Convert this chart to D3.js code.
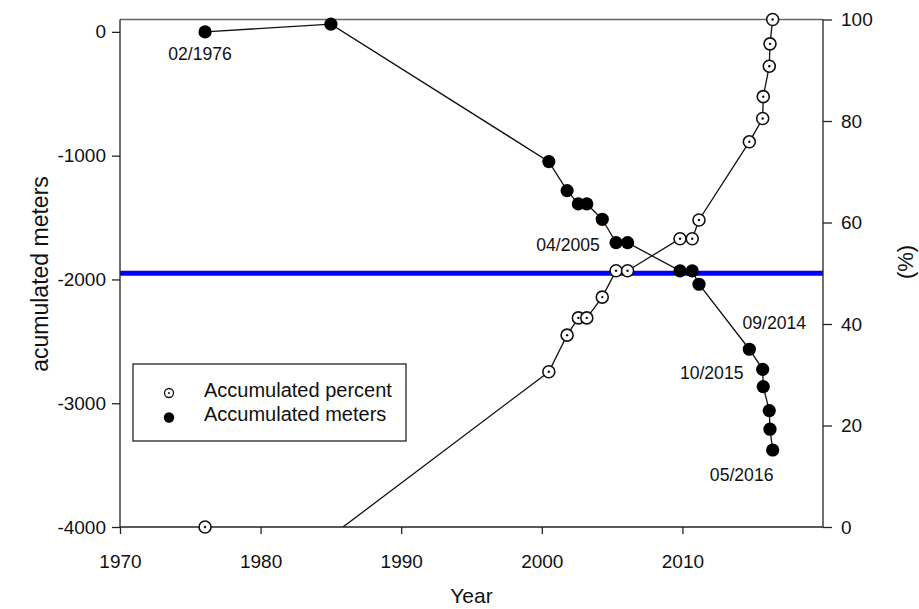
<!DOCTYPE html>
<html>
<head>
<meta charset="utf-8">
<script src="https://cdn.jsdelivr.net/npm/d3@7"></script>
<style>
  html, body { margin: 0; padding: 0; background: #fff; }
  svg { display: block; font-family: "Liberation Sans", Arial, sans-serif; }
</style>
</head>
<body>
<svg id="chart" width="919" height="609"></svg>
<script>
// Survey dates (decimal years)
const years = [1976.05, 1985.0, 2000.5, 2001.8, 2002.6, 2003.2, 2004.3, 2005.28, 2006.1,
               2009.83, 2010.7, 2011.18, 2014.76, 2015.71, 2015.75, 2016.18, 2016.23, 2016.42];
// Accumulated meters at each survey
const meters = [0, 62, -1048, -1282, -1390, -1390, -1514, -1703, -1703,
                -1931, -1931, -2039, -2564, -2726, -2866, -3060, -3210, -3378];
// Accumulated percent at each survey
const percent = [0, -1.8, 30.6, 37.8, 41.2, 41.2, 45.3, 50.5, 50.5,
                 56.8, 56.8, 60.5, 75.9, 80.5, 84.8, 90.8, 95.2, 100];

const xTicks = [1970, 1980, 1990, 2000, 2010];
const yLeftTicks = [0, -1000, -2000, -3000, -4000];
const yRightTicks = [0, 20, 40, 60, 80, 100];
const halfLevel = 50;

// Date annotations, attached to a survey index
const dateLabels = ["02/1976", "04/2005", "09/2014", "10/2015", "05/2016"];
const dateLabelIndex = [0, 7, 12, 13, 17];
const dateLabelOffset = [[-5, 28], [-48, 8], [25, -20], [-51, 10], [-31, 31]];

const legendItems = ["Accumulated percent", "Accumulated meters"];

const svg = d3.select("#chart");
const L = 120, R = 823, T = 19.5, B = 527;

const x = d3.scaleLinear().domain([1970, 2020]).range([L, R]);
const yM = d3.scaleLinear().domain([-4000, 100]).range([B, T]);
const yP = d3.scaleLinear().domain([0, 100]).range([B, T]);

svg.append("defs").append("clipPath").attr("id", "plotClip")
  .append("rect").attr("x", L).attr("y", 0).attr("width", R - L).attr("height", B);

const axisColor = "#222";
const plain = d => String(d);   // keep ASCII hyphen for negatives

// 50% reference line
svg.append("line")
  .attr("x1", L).attr("x2", R)
  .attr("y1", yP(halfLevel)).attr("y2", yP(halfLevel))
  .attr("stroke", "#0000ff").attr("stroke-width", 5);

// Top frame
svg.append("line").attr("x1", L).attr("x2", R).attr("y1", T).attr("y2", T)
  .attr("stroke", "#666").attr("stroke-width", 1.3);

// Axes
function styleAxis(g, fs) {
  g.selectAll(".domain").attr("stroke", axisColor).attr("stroke-width", 1.3);
  g.selectAll(".tick line").attr("stroke", axisColor).attr("stroke-width", 1.3);
  g.selectAll(".tick text").attr("fill", "#111").style("font-size", fs + "px")
    .style("font-family", "'Liberation Sans', Arial, sans-serif");
}

const gx = svg.append("g").attr("transform", `translate(0,${B})`)
  .call(d3.axisBottom(x).tickValues(xTicks).tickFormat(plain).tickSize(7).tickPadding(21).tickSizeOuter(0));
styleAxis(gx, 19);
gx.select(".domain").attr("d", `M${L},0H${R}`);

const gl = svg.append("g").attr("transform", `translate(${L},0)`)
  .call(d3.axisLeft(yM).tickValues(yLeftTicks).tickFormat(plain).tickSize(8).tickPadding(6).tickSizeOuter(0));
styleAxis(gl, 19);
gl.select(".domain").attr("d", `M0,${T}V${B}`);

const gr = svg.append("g").attr("transform", `translate(${R},0)`)
  .call(d3.axisRight(yP).tickValues(yRightTicks).tickFormat(plain).tickSize(9).tickPadding(9).tickSizeOuter(0));
styleAxis(gr, 19);
gr.select(".domain").attr("d", `M0,${T}V${B}`);

// Axis titles
svg.append("text").attr("x", (L + R) / 2).attr("y", 603).attr("text-anchor", "middle")
  .style("font-size", "21px").attr("fill", "#111").text("Year");
svg.append("text").attr("transform", "translate(48,274) rotate(-90)").attr("text-anchor", "middle")
  .style("font-size", "23px").attr("fill", "#111").text("acumulated meters");
svg.append("text").attr("transform", "translate(913,262) rotate(-90)").attr("text-anchor", "middle")
  .style("font-size", "22px").attr("fill", "#111").text("(%)");

// Series lines
const pts = years.map((yr, i) => ({ yr, m: meters[i], p: percent[i] }));
const plot = svg.append("g").attr("clip-path", "url(#plotClip)");
plot.append("path").datum(pts)
  .attr("d", d3.line().x(d => x(d.yr)).y(d => yP(d.p)))
  .attr("fill", "none").attr("stroke", "#111").attr("stroke-width", 1.3);
plot.append("path").datum(pts)
  .attr("d", d3.line().x(d => x(d.yr)).y(d => yM(d.m)))
  .attr("fill", "none").attr("stroke", "#111").attr("stroke-width", 1.3);

// Percent markers (only those within the axis range)
const pm = svg.append("g").selectAll("g").data(pts.filter(d => d.p >= 0)).join("g")
  .attr("transform", d => `translate(${x(d.yr)},${yP(d.p)})`);
pm.append("circle").attr("r", 6).attr("fill", "#fff").attr("stroke", "#111").attr("stroke-width", 1.6);
pm.append("circle").attr("r", 1.2).attr("fill", "#111");

// Meter markers
svg.append("g").selectAll("circle").data(pts).join("circle")
  .attr("cx", d => x(d.yr)).attr("cy", d => yM(d.m)).attr("r", 6.6).attr("fill", "#000");

// Date labels
svg.append("g").selectAll("text").data(dateLabels).join("text")
  .attr("x", (d, i) => x(years[dateLabelIndex[i]]) + dateLabelOffset[i][0])
  .attr("y", (d, i) => yM(meters[dateLabelIndex[i]]) + dateLabelOffset[i][1])
  .attr("text-anchor", "middle").style("font-size", "17.6px").attr("fill", "#111")
  .text(d => d);

// Legend
const lg = svg.append("g");
lg.append("rect").attr("x", 133).attr("y", 364).attr("width", 273).attr("height", 77)
  .attr("fill", "#fff").attr("stroke", "#222").attr("stroke-width", 1.3);
const rows = lg.selectAll("g").data(legendItems).join("g")
  .attr("transform", (d, i) => `translate(169,${393 + i * 24.5})`);
rows.each(function (d, i) {
  const g = d3.select(this);
  if (i === 0) {
    g.append("circle").attr("r", 4.5).attr("fill", "#fff").attr("stroke", "#111").attr("stroke-width", 1.3);
    g.append("circle").attr("r", 1).attr("fill", "#111");
  } else {
    g.append("circle").attr("r", 5.2).attr("fill", "#000");
  }
  g.append("text").attr("x", 35).attr("y", 3.5).style("font-size", "20px").attr("fill", "#111").text(d);
});
</script>
</body>
</html>
